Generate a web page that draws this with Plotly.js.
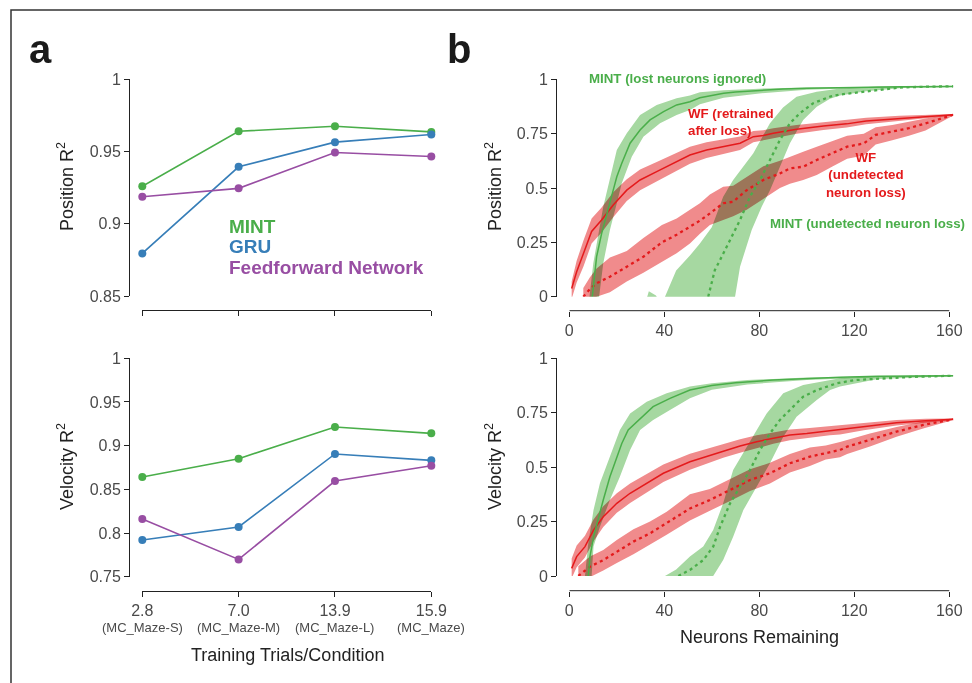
<!DOCTYPE html>
<html><head><meta charset="utf-8">
<script src="https://cdn.plot.ly/plotly-3.0.1.min.js"></script>
<style>html,body{margin:0;padding:0;background:#fff;}#chart{width:972px;height:683px;}</style>
</head><body><div id="chart"></div>
<script>
// ---------- Panel a data ----------
const trialCats = ['2.8', '7.0', '13.9', '15.9'];
const datasetNames = ['(MC_Maze-S)', '(MC_Maze-M)', '(MC_Maze-L)', '(MC_Maze)'];
const posMINT = [0.926, 0.964, 0.9675, 0.9636];
const posGRU  = [0.8795, 0.9394, 0.9565, 0.9618];
const posFF   = [0.9187, 0.9245, 0.9493, 0.9466];
const velMINT = [0.8641, 0.8851, 0.9214, 0.9141];
const velGRU  = [0.792, 0.8069, 0.8905, 0.8832];
const velFF   = [0.816, 0.7698, 0.8595, 0.8771];
const posTicks = [0.85, 0.9, 0.95, 1];
const posTickText = ['0.85', '0.9', '0.95', '1'];
const velTicks = [0.75, 0.8, 0.85, 0.9, 0.95, 1];
const velTickText = ['0.75', '0.8', '0.85', '0.9', '0.95', '1'];

// ---------- Panel b data: Position ----------
const mintIgnPosX = [9.2, 11.5, 13.6, 16.4, 18.5, 20, 22.1, 25.6, 29.8, 34, 39.7, 45.2, 50.8, 55, 60, 65, 70, 80, 90, 100, 120, 140, 161.7];
const mintIgnPosY = [-0.05, 0.184, 0.29, 0.399, 0.49, 0.552, 0.614, 0.706, 0.767, 0.813, 0.851, 0.882, 0.897, 0.915, 0.927, 0.936, 0.942, 0.95, 0.955, 0.959, 0.963, 0.966, 0.967];
const mintIgnPosUpX = [8.0, 10.1, 14.3, 17.8, 20, 24.2, 29.8, 36.8, 45.2, 50.8, 55, 65, 80, 100, 130, 161.7];
const mintIgnPosUpY = [-0.05, 0.154, 0.414, 0.567, 0.675, 0.752, 0.836, 0.882, 0.913, 0.925, 0.94, 0.95, 0.957, 0.962, 0.967, 0.969];
const mintIgnPosLoX = [12.0, 14.3, 17.1, 20, 22.1, 26.3, 31.2, 38.2, 45.2, 50.8, 55, 65, 80, 100, 130, 161.7];
const mintIgnPosLoY = [-0.05, 0.154, 0.307, 0.43, 0.522, 0.644, 0.736, 0.798, 0.836, 0.859, 0.885, 0.915, 0.935, 0.952, 0.962, 0.965];

const wfRetPosX = [1, 3.1, 6, 9.4, 13.6, 18.5, 24.2, 29.8, 36.8, 43.8, 50.8, 57.8, 64.8, 71.9, 77.5, 81.7, 85.9, 95.7, 107, 116.8, 125, 139, 149, 161.7];
const wfRetPosY = [0.038, 0.115, 0.2, 0.3, 0.353, 0.422, 0.49, 0.537, 0.575, 0.614, 0.652, 0.675, 0.69, 0.706, 0.736, 0.742, 0.752, 0.77, 0.785, 0.795, 0.808, 0.82, 0.828, 0.837];
const wfRetPosUp = [0.07, 0.165, 0.26, 0.36, 0.41, 0.48, 0.54, 0.585, 0.62, 0.655, 0.69, 0.71, 0.722, 0.737, 0.762, 0.766, 0.775, 0.79, 0.803, 0.812, 0.823, 0.832, 0.837, 0.84];
const wfRetPosLo = [-0.01, 0.065, 0.14, 0.245, 0.295, 0.365, 0.44, 0.49, 0.53, 0.572, 0.612, 0.638, 0.657, 0.675, 0.71, 0.718, 0.729, 0.75, 0.767, 0.778, 0.793, 0.808, 0.819, 0.834];

const wfUndPosX = [5.9, 8.7, 11.5, 17.1, 24.2, 31.2, 39, 45.2, 50.8, 55, 59.2, 64.8, 69, 74.7, 81.7, 88.7, 92.9, 98.5, 104.2, 111, 117, 124, 129, 136, 143, 150, 161.7];
const wfUndPosY = [0, 0.035, 0.062, 0.092, 0.138, 0.184, 0.25, 0.285, 0.322, 0.35, 0.383, 0.43, 0.437, 0.49, 0.537, 0.567, 0.59, 0.598, 0.629, 0.66, 0.69, 0.705, 0.744, 0.76, 0.775, 0.797, 0.837];
const wfUndPosUp = [0.04, 0.09, 0.13, 0.18, 0.21, 0.27, 0.33, 0.36, 0.4, 0.43, 0.47, 0.506, 0.51, 0.55, 0.6, 0.625, 0.644, 0.667, 0.69, 0.715, 0.74, 0.75, 0.78, 0.79, 0.805, 0.82, 0.84];
const wfUndPosLo = [-0.06, -0.03, 0, 0.02, 0.07, 0.11, 0.16, 0.2, 0.245, 0.29, 0.33, 0.353, 0.37, 0.4, 0.45, 0.5, 0.52, 0.537, 0.56, 0.6, 0.635, 0.65, 0.7, 0.72, 0.74, 0.765, 0.834];

const mintUndPosX = [58.5, 61.3, 63.5, 67.7, 71.9, 76.1, 80.3, 84.5, 88.7, 92.9, 97.1, 102.7, 109.8, 114, 125, 131, 139, 150, 161.7];
const mintUndPosY = [0, 0.123, 0.169, 0.261, 0.353, 0.46, 0.537, 0.629, 0.721, 0.798, 0.844, 0.89, 0.92, 0.93, 0.945, 0.953, 0.962, 0.966, 0.968];
const mintUndPosUpX = [32, 33.5, 36.5, 38.5, 40.3, 45, 50.8, 55, 60, 64.8, 69, 77.5, 84.5, 90, 95.7, 104.2, 114, 130, 161.7];
const mintUndPosUpY = [-0.03, 0.025, 0.005, -0.03, 0, 0.12, 0.19, 0.245, 0.32, 0.46, 0.537, 0.66, 0.798, 0.87, 0.92, 0.943, 0.958, 0.967, 0.97];
const mintUndPosLoX = [30, 50, 60, 67, 69.8, 71.9, 76.8, 81, 84.5, 88.7, 92.9, 98.5, 104.2, 109.8, 114, 125, 140, 161.7];
const mintUndPosLoY = [-0.5, -0.4, -0.2, -0.05, 0, 0.138, 0.307, 0.414, 0.49, 0.598, 0.706, 0.813, 0.874, 0.91, 0.925, 0.945, 0.96, 0.965];

// ---------- Panel b data: Velocity ----------
const mintIgnVelX = [7.6, 8.0, 8.7, 10.2, 12.3, 14.3, 17.1, 20, 22.1, 24.8, 29.8, 35.3, 42.4, 50.8, 60, 70, 85.9, 100, 114, 130, 161.7];
const mintIgnVelY = [-0.05, 0, 0.089, 0.18, 0.272, 0.349, 0.456, 0.548, 0.609, 0.671, 0.724, 0.778, 0.816, 0.854, 0.875, 0.888, 0.9, 0.907, 0.913, 0.917, 0.92];
const mintIgnVelUpX = [6.3, 6.6, 8, 10.2, 12.9, 17.1, 21.3, 25.6, 32.6, 41, 50.8, 60, 75, 100, 130, 161.7];
const mintIgnVelUpY = [-0.05, 0, 0.15, 0.303, 0.426, 0.548, 0.671, 0.747, 0.8, 0.839, 0.87, 0.885, 0.9, 0.912, 0.918, 0.922];
const mintIgnVelLoX = [9.0, 9.4, 10.2, 12.9, 17.1, 21.3, 25.6, 29.8, 35.3, 42.4, 50.8, 60, 75, 100, 130, 161.7];
const mintIgnVelLoY = [-0.05, 0, 0.135, 0.226, 0.349, 0.456, 0.579, 0.671, 0.717, 0.763, 0.816, 0.855, 0.88, 0.9, 0.913, 0.918];

const wfRetVelX = [1, 3.1, 6.6, 10.2, 14.3, 20, 25.6, 32.6, 39.6, 50.8, 57.8, 64.8, 71.9, 78.9, 85.9, 92.9, 100, 109.7, 114, 124, 137.8, 150, 161.7];
const wfRetVelY = [0.035, 0.089, 0.135, 0.211, 0.272, 0.334, 0.38, 0.426, 0.472, 0.525, 0.55, 0.575, 0.597, 0.617, 0.634, 0.648, 0.655, 0.668, 0.671, 0.686, 0.704, 0.713, 0.72];
const wfRetVelUp = [0.08, 0.14, 0.185, 0.26, 0.32, 0.38, 0.425, 0.47, 0.512, 0.562, 0.584, 0.607, 0.628, 0.646, 0.661, 0.673, 0.679, 0.69, 0.692, 0.703, 0.717, 0.722, 0.723];
const wfRetVelLo = [-0.01, 0.04, 0.085, 0.16, 0.225, 0.29, 0.335, 0.383, 0.432, 0.488, 0.516, 0.543, 0.566, 0.588, 0.607, 0.623, 0.631, 0.646, 0.65, 0.669, 0.691, 0.704, 0.717];

const wfUndVelX = [3.8, 8.7, 14.3, 20, 27, 34, 41, 50.8, 59.2, 67.7, 76.1, 84.5, 92.9, 101.3, 108, 114, 117, 126.6, 137.8, 149, 161.7];
const wfUndVelY = [0, 0.043, 0.073, 0.112, 0.158, 0.196, 0.242, 0.31, 0.349, 0.395, 0.441, 0.472, 0.518, 0.548, 0.565, 0.579, 0.594, 0.625, 0.663, 0.694, 0.72];
const wfUndVelUp = [0.045, 0.09, 0.12, 0.165, 0.215, 0.25, 0.295, 0.375, 0.4, 0.445, 0.49, 0.52, 0.56, 0.59, 0.6, 0.615, 0.625, 0.655, 0.685, 0.71, 0.723];
const wfUndVelLo = [-0.04, -0.005, 0.025, 0.06, 0.1, 0.145, 0.19, 0.255, 0.3, 0.345, 0.39, 0.425, 0.475, 0.505, 0.535, 0.545, 0.56, 0.595, 0.64, 0.678, 0.717];

const mintUndVelX = [45.9, 50.8, 56.4, 60.6, 63.5, 67.7, 71.9, 76.1, 80.3, 84.5, 88.7, 92.9, 98.5, 104.2, 112.6, 120, 131, 145, 161.7];
const mintUndVelY = [0, 0.028, 0.073, 0.135, 0.226, 0.334, 0.41, 0.487, 0.579, 0.655, 0.717, 0.763, 0.824, 0.854, 0.885, 0.9, 0.908, 0.915, 0.92];
const mintUndVelUpX = [40.3, 45, 50.8, 56.4, 60.6, 64.8, 69, 74.7, 83.1, 90.1, 98.5, 114, 130, 161.7];
const mintUndVelUpY = [0, 0.03, 0.089, 0.135, 0.211, 0.334, 0.487, 0.594, 0.747, 0.839, 0.877, 0.908, 0.918, 0.922];
const mintUndVelLoX = [45, 58, 60.6, 64.8, 69, 73.3, 78.9, 84.5, 90.1, 95.7, 104.2, 109.8, 114, 130, 161.7];
const mintUndVelLoY = [-0.3, -0.02, 0, 0.073, 0.18, 0.303, 0.41, 0.518, 0.64, 0.732, 0.808, 0.854, 0.87, 0.905, 0.918];

const neuronTicks = [0, 40, 80, 120, 160];
const r2Ticks = [0, 0.25, 0.5, 0.75, 1];
const r2TickText = ['0', '0.25', '0.5', '0.75', '1'];

// ---------- styling ----------
const C_MINT = '#4aae4a', C_GRU = '#377eb8', C_FF = '#984ea3', C_WF = '#e41a1c';
const BAND_G = 'rgb(166,216,161)', BAND_R = 'rgb(240,139,140)';
const FONT = 'Liberation Sans, Arial, Helvetica, sans-serif';
const W = 972, H = 683;
const px = v => v / W;
const py = v => 1 - v / H;
const DOT = '3px,3.5px';

const traces = [];
function aLine(y, color, xa, ya) {
  traces.push({type: 'scatter', mode: 'lines+markers', x: trialCats, y: y, xaxis: xa, yaxis: ya,
    line: {color: color, width: 1.6}, marker: {color: color, size: 8}, cliponaxis: false, hoverinfo: 'skip'});
}
aLine(posMINT, C_MINT, 'x', 'y'); aLine(posGRU, C_GRU, 'x', 'y'); aLine(posFF, C_FF, 'x', 'y');
aLine(velMINT, C_MINT, 'x2', 'y2'); aLine(velGRU, C_GRU, 'x2', 'y2'); aLine(velFF, C_FF, 'x2', 'y2');

function band(xu, yu, xl, yl, color, xa, ya) {
  traces.push({type: 'scatter', mode: 'lines', x: xu.concat(xl.slice().reverse()), y: yu.concat(yl.slice().reverse()),
    fill: 'toself', fillcolor: color, line: {width: 0, color: 'rgba(0,0,0,0)'}, xaxis: xa, yaxis: ya, hoverinfo: 'skip'});
}
function curve(x, y, color, dash, xa, ya) {
  traces.push({type: 'scatter', mode: 'lines', x: x, y: y, xaxis: xa, yaxis: ya,
    line: {color: color, width: dash ? 2.3 : 1.5, dash: dash || 'solid'}, hoverinfo: 'skip'});
}
// Position bands
band(mintIgnPosUpX, mintIgnPosUpY, mintIgnPosLoX, mintIgnPosLoY, BAND_G, 'x3', 'y3');
band(mintUndPosUpX, mintUndPosUpY, mintUndPosLoX, mintUndPosLoY, BAND_G, 'x3', 'y3');
band(wfRetPosX, wfRetPosUp, wfRetPosX, wfRetPosLo, BAND_R, 'x3', 'y3');
band(wfUndPosX, wfUndPosUp, wfUndPosX, wfUndPosLo, BAND_R, 'x3', 'y3');
curve(wfRetPosX, wfRetPosY, C_WF, null, 'x3', 'y3');
curve(wfUndPosX, wfUndPosY, C_WF, DOT, 'x3', 'y3');
curve(mintIgnPosX, mintIgnPosY, C_MINT, null, 'x3', 'y3');
curve(mintUndPosX, mintUndPosY, C_MINT, DOT, 'x3', 'y3');
// Velocity bands
band(mintIgnVelUpX, mintIgnVelUpY, mintIgnVelLoX, mintIgnVelLoY, BAND_G, 'x4', 'y4');
band(mintUndVelUpX, mintUndVelUpY, mintUndVelLoX, mintUndVelLoY, BAND_G, 'x4', 'y4');
band(wfRetVelX, wfRetVelUp, wfRetVelX, wfRetVelLo, BAND_R, 'x4', 'y4');
band(wfUndVelX, wfUndVelUp, wfUndVelX, wfUndVelLo, BAND_R, 'x4', 'y4');
curve(wfRetVelX, wfRetVelY, C_WF, null, 'x4', 'y4');
curve(wfUndVelX, wfUndVelY, C_WF, DOT, 'x4', 'y4');
curve(mintIgnVelX, mintIgnVelY, C_MINT, null, 'x4', 'y4');
curve(mintUndVelX, mintUndVelY, C_MINT, DOT, 'x4', 'y4');

const tickFont = {family: FONT, size: 16, color: '#4a4a4a'};
function yAx(dom, range, vals, text, pos) {
  return {domain: dom, range: range, anchor: 'free', position: pos, tickvals: vals, ticktext: text,
    showline: true, linecolor: '#222', linewidth: 1, ticks: 'outside', ticklen: 5, tickcolor: '#222',
    showgrid: false, zeroline: false, tickfont: tickFont, fixedrange: true};
}
function xCat(dom, pos, labels) {
  return {domain: dom, type: 'category', categoryarray: trialCats, range: [0, 3], anchor: 'free', position: pos,
    showline: true, linecolor: '#222', linewidth: 1, ticks: 'outside', ticklen: 5, tickcolor: '#222',
    showgrid: false, zeroline: false, showticklabels: labels, tickfont: tickFont, fixedrange: true};
}
function xNum(dom, pos) {
  return {domain: dom, range: [0, 161.7], anchor: 'free', position: pos, tickvals: neuronTicks,
    showline: false, ticks: 'outside', ticklen: 5, tickcolor: '#222',
    showgrid: false, zeroline: false, tickfont: tickFont, fixedrange: true};
}
const xaDom = [px(142.3), px(431.3)];
const xbDom = [px(569.3), px(953.3)];

const ann = [];
function t(text, x, y, opts) {
  ann.push(Object.assign({text: text, x: x, y: y, xref: 'paper', yref: 'paper', showarrow: false,
    xanchor: 'left', yanchor: 'middle', font: {family: FONT, size: 13.3, color: '#222'}}, opts || {}));
}
// panel letters
t('<b>a</b>', px(27), py(49), {font: {family: FONT, size: 40, color: '#1a1a1a'}});
t('<b>b</b>', px(445), py(49), {font: {family: FONT, size: 40, color: '#1a1a1a'}});
// panel a legend
t('<b>MINT</b>', px(227), py(226), {font: {family: FONT, size: 19, color: C_MINT}});
t('<b>GRU</b>', px(227), py(246.5), {font: {family: FONT, size: 19, color: C_GRU}});
t('<b>Feedforward Network</b>', px(227), py(267), {font: {family: FONT, size: 19, color: C_FF}});
// axis titles
const titleFont = {family: FONT, size: 18, color: '#222'};
t('Position R<sup>2</sup>', px(65), py(187), {xanchor: 'center', textangle: -90, font: titleFont});
t('Velocity R<sup>2</sup>', px(65), py(467), {xanchor: 'center', textangle: -90, font: titleFont});
t('Position R<sup>2</sup>', px(493), py(187), {xanchor: 'center', textangle: -90, font: titleFont});
t('Velocity R<sup>2</sup>', px(493), py(467), {xanchor: 'center', textangle: -90, font: titleFont});
t('Training Trials/Condition', px(287), py(655), {xanchor: 'center', font: titleFont});
t('Neurons Remaining', px(759), py(637), {xanchor: 'center', font: titleFont});
// dataset sub-labels under the category ticks (category axis: serial index)
datasetNames.forEach((nm, i) => {
  ann.push({text: nm, x: i, xref: 'x2', y: py(627), yref: 'paper', showarrow: false,
    xanchor: 'center', yanchor: 'middle', font: {family: FONT, size: 13, color: '#4a4a4a'}});
});
// panel b labels
const gF = {family: FONT, size: 13.3, color: C_MINT};
const rF = {family: FONT, size: 13.3, color: C_WF};
t('<b>MINT (lost neurons ignored)</b>', px(587), py(79), {font: gF});
t('<b>WF (retrained<br>after loss)</b>', px(686), py(122.3), {font: rF, align: 'left'});
t('<b>WF<br>(undetected<br>neuron loss)</b>', px(866), py(175), {xanchor: 'center', align: 'center', font: rF});
t('<b>MINT (undetected neuron loss)</b>', px(768), py(223), {font: gF});

const layout = {
  width: W, height: H, margin: {l: 0, r: 0, t: 0, b: 0}, paper_bgcolor: '#fff', plot_bgcolor: 'rgba(0,0,0,0)',
  showlegend: false, hovermode: false, font: {family: FONT},
  xaxis: xCat(xaDom, py(310), false),
  yaxis: yAx([py(296), py(79.3)], [0.85, 1], posTicks, posTickText, px(129)),
  xaxis2: xCat(xaDom, py(590.7), true),
  yaxis2: yAx([py(576.7), py(358.3)], [0.75, 1], velTicks, velTickText, px(129)),
  xaxis3: xNum(xbDom, py(310.7)),
  yaxis3: yAx([py(296.7), py(79.3)], [0, 1], r2Ticks, r2TickText, px(556)),
  xaxis4: xNum(xbDom, py(590.7)),
  yaxis4: yAx([py(576), py(358.3)], [0, 1], r2Ticks, r2TickText, px(556)),
  annotations: ann,
  shapes: [
    {type: 'rect', xref: 'paper', yref: 'paper', x0: px(11), x1: 1.2, y0: -0.2, y1: py(10), line: {color: '#333', width: 1.5}, fillcolor: 'rgba(0,0,0,0)'},
    {type: 'line', xref: 'x3', yref: 'paper', x0: 0, x1: 160, y0: py(310.7), y1: py(310.7), line: {color: '#222', width: 1}},
    {type: 'line', xref: 'x4', yref: 'paper', x0: 0, x1: 160, y0: py(590.7), y1: py(590.7), line: {color: '#222', width: 1}}
  ]
};

function blend() {
  document.querySelectorAll('#chart path.js-fill').forEach(p => { p.style.mixBlendMode = 'multiply'; });
}
Plotly.newPlot('chart', traces, layout, {staticPlot: true, displayModeBar: false}).then(gd => {
  blend();
  gd.on('plotly_afterplot', blend);
});
</script>
</body></html>
